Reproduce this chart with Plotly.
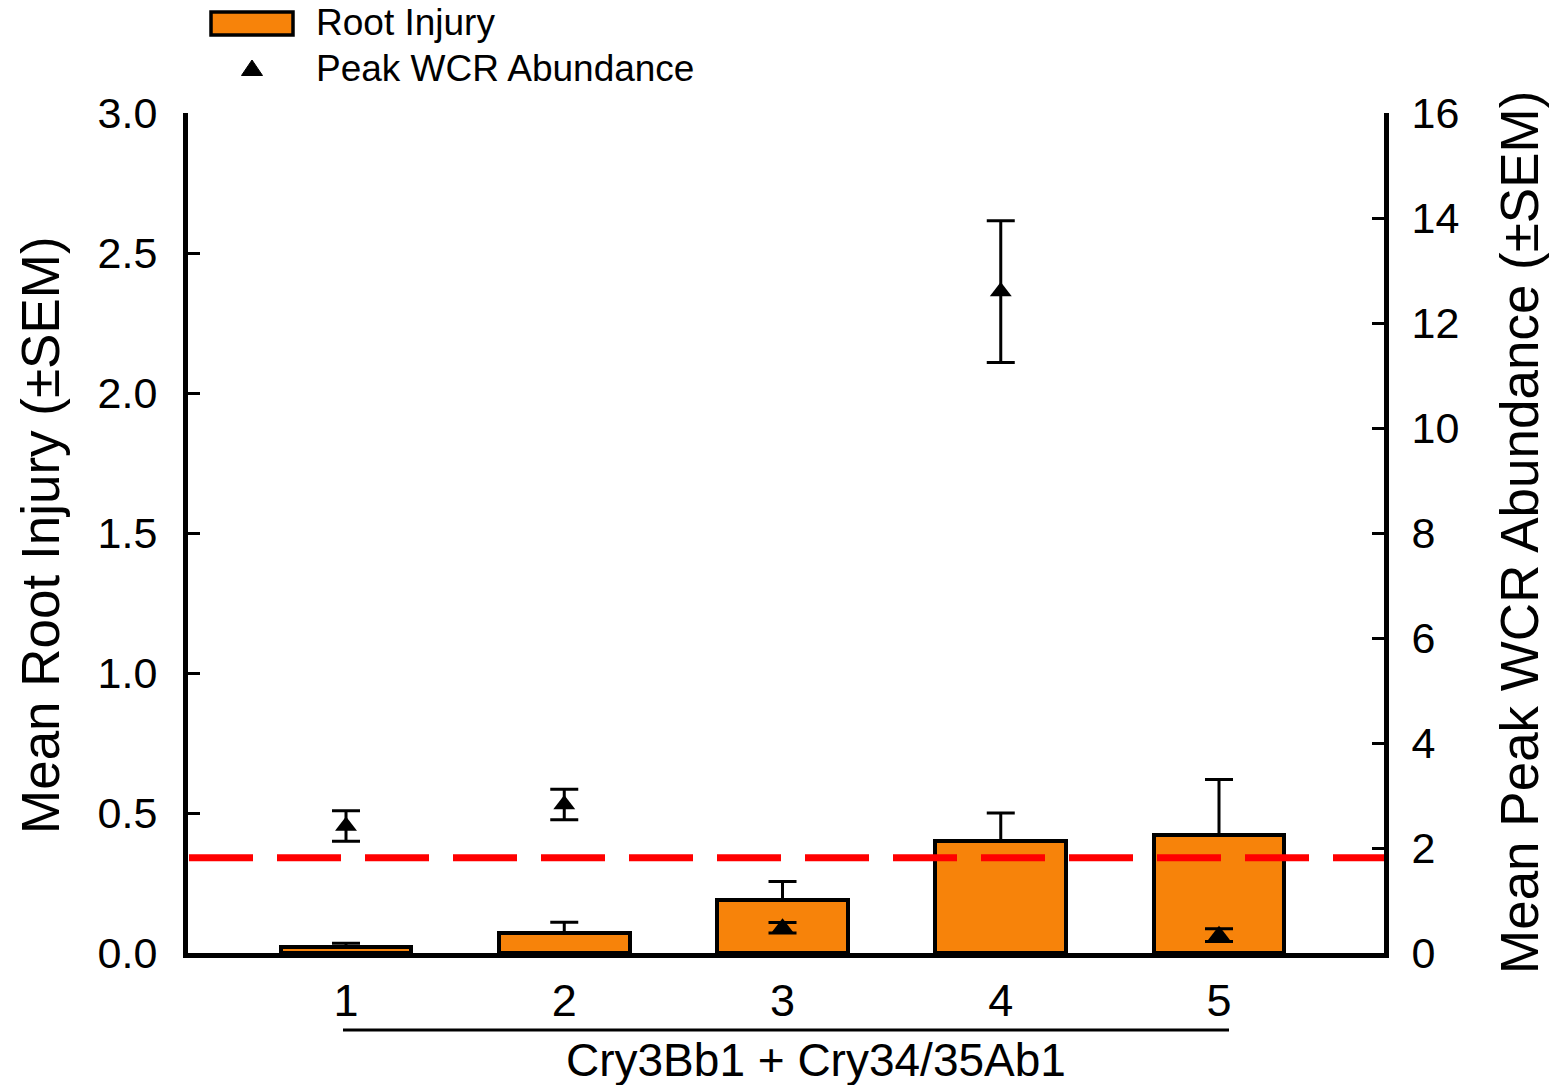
import plotly.graph_objects as go

# Treatment groups (Cry3Bb1 + Cry34/35Ab1)
groups = [1, 2, 3, 4, 5]
tick_labels = ["1", "2", "3", "4", "5"]

# Mean root injury (node-injury scale) and SEM
root_injury = [0.02, 0.07, 0.19, 0.40, 0.42]
root_injury_sem = [0.015, 0.04, 0.065, 0.10, 0.20]

# Mean peak western corn rootworm abundance and SEM
peak_wcr = [2.42, 2.83, 0.48, 12.6, 0.34]
peak_wcr_sem = [0.29, 0.29, 0.10, 1.35, 0.12]

# Economic injury threshold drawn as a dashed reference line
injury_threshold = 0.34

group_caption = "Cry3Bb1 + Cry34/35Ab1"

FONT = "Liberation Sans, Arial, sans-serif"
ORANGE = "#F7830A"

W, H = 1560, 1085
M_L, M_R, M_T, M_B = 188, 176, 113, 132
PLOT_W = W - M_L - M_R
PLOT_H = H - M_T - M_B


def px_x(px):
    """Pixel column -> paper x fraction."""
    return (px - M_L) / PLOT_W


def px_y(py):
    """Pixel row -> paper y fraction."""
    return (H - M_B - py) / PLOT_H


fig = go.Figure()

fig.add_trace(go.Bar(
    x=groups,
    y=root_injury,
    width=0.6,
    marker=dict(color=ORANGE, line=dict(color="black", width=4)),
    error_y=dict(type="data", array=root_injury_sem,
                 arrayminus=[0] * len(root_injury_sem), symmetric=False,
                 color="black", thickness=3, width=14),
    name="Root Injury",
    showlegend=False,
))

fig.add_trace(go.Scatter(
    x=groups,
    y=peak_wcr,
    yaxis="y2",
    mode="markers",
    marker=dict(symbol="triangle-up", size=19, color="black"),
    error_y=dict(type="data", array=peak_wcr_sem, symmetric=True,
                 color="black", thickness=3, width=14),
    name="Peak WCR Abundance",
    showlegend=False,
))

axis_common = dict(
    showline=True, linecolor="black", linewidth=5,
    showgrid=False, zeroline=False,
    ticks="inside", ticklen=12, tickwidth=3, tickcolor="black",
    tickfont=dict(family=FONT, size=43, color="black"),
)

fig.update_layout(
    width=W, height=H,
    margin=dict(l=M_L, r=M_R, t=M_T, b=M_B),
    paper_bgcolor="white",
    plot_bgcolor="white",
    bargap=0,
    xaxis=dict(
        range=[0.276, 5.756],
        tickvals=groups, ticktext=tick_labels,
        showline=True, linecolor="black", linewidth=5,
        showgrid=False, zeroline=False, ticks="",
        ticklabelstandoff=4,
        tickfont=dict(family=FONT, size=45, color="black"),
    ),
    yaxis=dict(range=[0, 3], dtick=0.5, tickformat=".1f",
               ticklabelstandoff=17, **axis_common),
    yaxis2=dict(range=[0, 16], dtick=2, overlaying="y", side="right",
                ticklabelstandoff=14, **axis_common),
)

shapes = [
    # dashed threshold line across the plot
    dict(type="line", xref="paper", yref="y",
         x0=px_x(189), x1=1, y0=injury_threshold, y1=injury_threshold,
         line=dict(color="#FF0000", width=7, dash="64px,24px"),
         layer="above"),
    # bracket line under the group numbers
    dict(type="line", xref="paper", yref="paper",
         x0=px_x(343), x1=px_x(1229), y0=px_y(1030), y1=px_y(1030),
         line=dict(color="black", width=3)),
    # legend: bar swatch
    dict(type="rect", xref="paper", yref="paper",
         x0=px_x(211), x1=px_x(293), y0=px_y(35), y1=px_y(12),
         fillcolor=ORANGE, line=dict(color="black", width=3.5)),
    # legend: triangle marker
    dict(type="path", xref="paper", yref="paper",
         xsizemode="pixel", ysizemode="pixel",
         xanchor=px_x(252), yanchor=px_y(69),
         path="M -10.5 -6.5 L 10.5 -6.5 L 0 9 Z",
         fillcolor="black", line=dict(color="black", width=1)),
]

annotations = [
    dict(text="Root Injury", x=px_x(314), y=px_y(23), xref="paper", yref="paper",
         xanchor="left", yanchor="middle", showarrow=False,
         font=dict(family=FONT, size=37, color="black")),
    dict(text="Peak WCR Abundance", x=px_x(314), y=px_y(69), xref="paper", yref="paper",
         xanchor="left", yanchor="middle", showarrow=False,
         font=dict(family=FONT, size=37, color="black")),
    dict(text="Mean Root Injury (±SEM)", x=px_x(40), y=px_y(535),
         xref="paper", yref="paper", xanchor="center", yanchor="middle",
         textangle=-90, showarrow=False,
         font=dict(family=FONT, size=53, color="black")),
    dict(text="Mean Peak WCR Abundance (±SEM)", x=px_x(1519), y=px_y(533),
         xref="paper", yref="paper", xanchor="center", yanchor="middle",
         textangle=-90, showarrow=False,
         font=dict(family=FONT, size=53, color="black")),
    dict(text=group_caption, x=px_x(816), y=px_y(1060),
         xref="paper", yref="paper", xanchor="center", yanchor="middle",
         showarrow=False, font=dict(family=FONT, size=46, color="black")),
]

fig.update_layout(shapes=shapes, annotations=annotations)

fig.write_html("out.html")
